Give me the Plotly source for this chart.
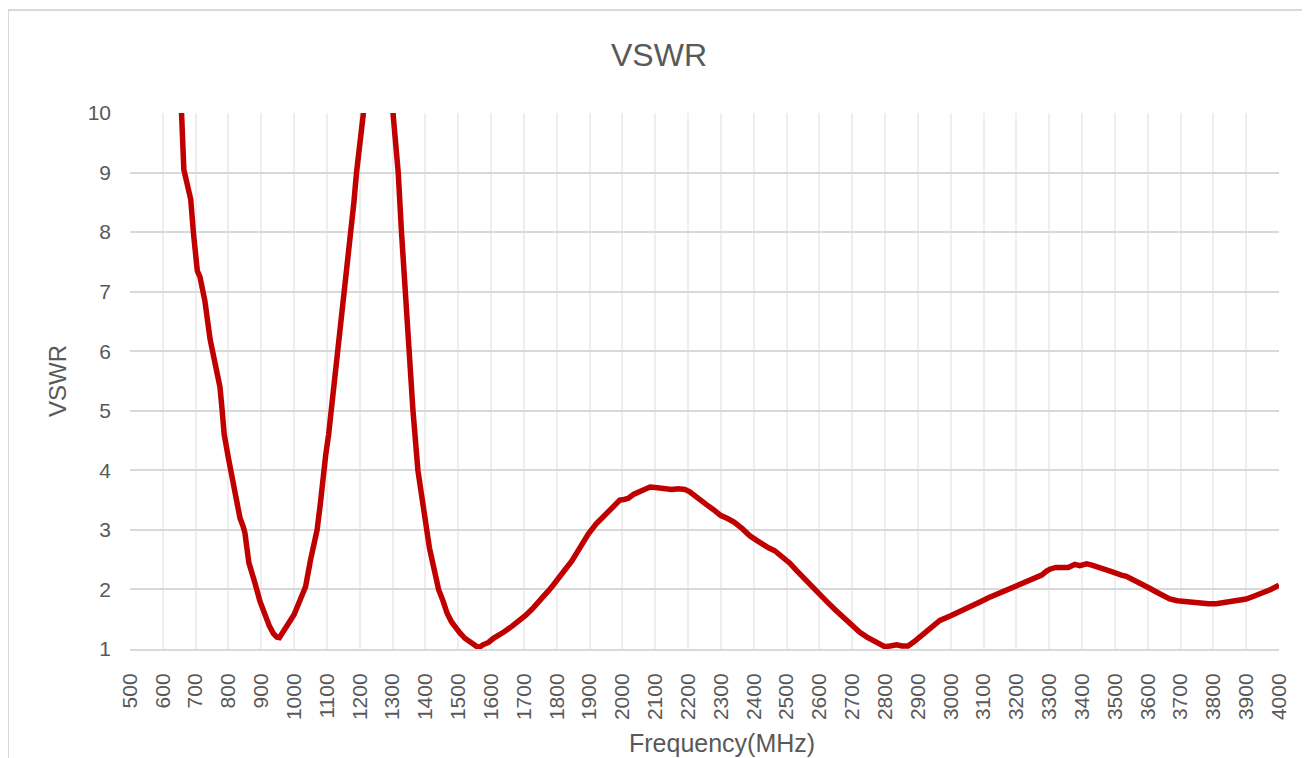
import plotly.graph_objects as go

freq_mhz = [600, 650, 657, 664, 670, 685, 693, 700, 705, 713, 722, 728, 744, 755, 766, 774, 780, 787,
            800, 810, 823, 835, 845, 850, 862, 871, 881, 896, 911, 925, 937, 947, 955, 963, 975, 985,
            1000, 1013, 1025, 1035, 1050, 1060, 1070, 1080, 1086, 1096, 1105, 1112, 1127, 1135, 1145,
            1155, 1165, 1175, 1182, 1190, 1200, 1211, 1230, 1250, 1275, 1290, 1302, 1310, 1317, 1327,
            1338, 1347, 1355, 1362, 1377, 1390, 1402, 1412, 1422, 1432, 1440, 1454, 1466, 1480, 1492,
            1505, 1520, 1535, 1548, 1562, 1575, 1592, 1607, 1622, 1640, 1663, 1685, 1704, 1725, 1744,
            1760, 1775, 1790, 1805, 1825, 1846, 1870, 1896, 1920, 1947, 1970, 1992, 2005, 2018, 2035,
            2048, 2065, 2084, 2100, 2115, 2130, 2150, 2170, 2190, 2205, 2221, 2240, 2262, 2282, 2300,
            2320, 2340, 2365, 2388, 2410, 2429, 2445, 2464, 2488, 2510, 2530, 2551, 2570, 2591, 2608,
            2622, 2648, 2673, 2698, 2723, 2745, 2764, 2782, 2799, 2815, 2835, 2852, 2870, 2888, 2906,
            2935, 2967, 3000, 3028, 3060, 3089, 3115, 3140, 3165, 3191, 3215, 3241, 3260, 3277, 3290,
            3302, 3320, 3332, 3345, 3358, 3378, 3393, 3414, 3430, 3444, 3460, 3474, 3490, 3505, 3520,
            3535, 3555, 3576, 3590, 3606, 3622, 3637, 3652, 3667, 3690, 3718, 3740, 3758, 3785, 3809,
            3835, 3860, 3880, 3900, 3925, 3951, 3975, 4000]

vswr = [16.0, 11.0, 10.0, 9.05, 8.9, 8.55, 8.0, 7.6, 7.35, 7.25, 7.05, 6.85, 6.2, 5.9, 5.65, 5.4, 5.05, 4.6,
        4.2, 3.9, 3.55, 3.2, 3.05, 2.95, 2.45, 2.25, 2.1, 1.8, 1.55, 1.38, 1.26, 1.2, 1.19, 1.25, 1.37, 1.45,
        1.58, 1.78, 1.9, 2.05, 2.5, 2.75, 3.0, 3.45, 3.8, 4.25, 4.6, 4.95, 5.7, 6.05, 6.5,
        7.0, 7.5, 8.05, 8.5, 9.0, 9.5, 10.0, 10.9, 11.3, 11.3, 10.7, 10.0, 9.5, 9.0, 8.0,
        7.0, 6.0, 5.5, 5.0, 4.0, 3.5, 3.05, 2.7, 2.45, 2.2, 2.0, 1.8, 1.6, 1.45, 1.35,
        1.27, 1.18, 1.12, 1.06, 1.02, 1.07, 1.11, 1.18, 1.22, 1.29, 1.38, 1.47, 1.56, 1.67, 1.78,
        1.88, 1.98, 2.08, 2.2, 2.33, 2.48, 2.7, 2.93, 3.1, 3.26, 3.4, 3.5, 3.51, 3.53, 3.6,
        3.63, 3.68, 3.72, 3.71, 3.7, 3.69, 3.68, 3.69, 3.68, 3.64, 3.58, 3.5, 3.4, 3.32, 3.24,
        3.19, 3.13, 3.02, 2.9, 2.82, 2.74, 2.7, 2.65, 2.55, 2.44, 2.32, 2.2, 2.08, 1.95, 1.88,
        1.8, 1.66, 1.53, 1.4, 1.28, 1.2, 1.14, 1.08, 1.04, 1.05, 1.07, 1.05, 1.05, 1.12, 1.2,
        1.34, 1.48, 1.56, 1.64, 1.72, 1.79, 1.86, 1.92, 1.97, 2.02, 2.09, 2.16, 2.2, 2.24, 2.3,
        2.34, 2.37, 2.38, 2.37, 2.37, 2.42, 2.4, 2.43, 2.41, 2.39, 2.36, 2.33, 2.3, 2.26, 2.24,
        2.22, 2.17, 2.11, 2.07, 2.02, 1.97, 1.92, 1.87, 1.84, 1.81, 1.79, 1.77, 1.76, 1.76, 1.76,
        1.78, 1.8, 1.82, 1.84, 1.89, 1.94, 2.0, 2.07]

x_ticks = list(range(500, 4001, 100))
y_ticks = list(range(1, 11))

TEXT = "#595959"
FONT = "Liberation Sans"

fig = go.Figure()
fig.add_trace(go.Scatter(
    x=freq_mhz, y=vswr, mode="lines",
    line=dict(color="#C00000", width=5.5),
    name="VSWR", showlegend=False,
))

fig.update_layout(
    width=1302, height=750,
    margin=dict(l=122, r=31, t=105, b=109),
    paper_bgcolor="white", plot_bgcolor="white",
    font=dict(family=FONT, color=TEXT),
    title=dict(text="VSWR", x=0.5, xanchor="center", y=0.937, yanchor="middle",
               font=dict(size=32, color=TEXT, family=FONT)),
    xaxis=dict(
        range=[500, 4000], tickmode="array", tickvals=x_ticks,
        ticktext=[str(v) for v in x_ticks], tickangle=-90,
        tickfont=dict(size=21, color=TEXT),
        showgrid=True, gridcolor="#eeeeee", gridwidth=1.5,
        showline=True, linecolor="#d9d9d9", linewidth=2,
        ticks="", ticklabelstandoff=14, zeroline=False,
    ),
    yaxis=dict(
        range=[1, 10], tickmode="array", tickvals=y_ticks,
        tickfont=dict(size=21, color=TEXT),
        showgrid=True, gridcolor="#d9d9d9", gridwidth=2,
        showline=False, ticks="", ticklabelstandoff=18, zeroline=False,
        title=dict(text="VSWR", font=dict(size=24, color=TEXT), standoff=14),
    ),
    annotations=[dict(text="Frequency(MHz)", xref="paper", yref="paper",
                      x=0.515, y=-0.175, xanchor="center", yanchor="middle",
                      showarrow=False, font=dict(size=25, color=TEXT))],
    shapes=[dict(type="rect", xref="paper", yref="paper",
                 x0=-0.1062, x1=1.0235, y0=-0.22, y1=1.192,
                 line=dict(color="#d9d9d9", width=2), fillcolor="rgba(0,0,0,0)", layer="below")],
)

fig.write_html("out.html")
